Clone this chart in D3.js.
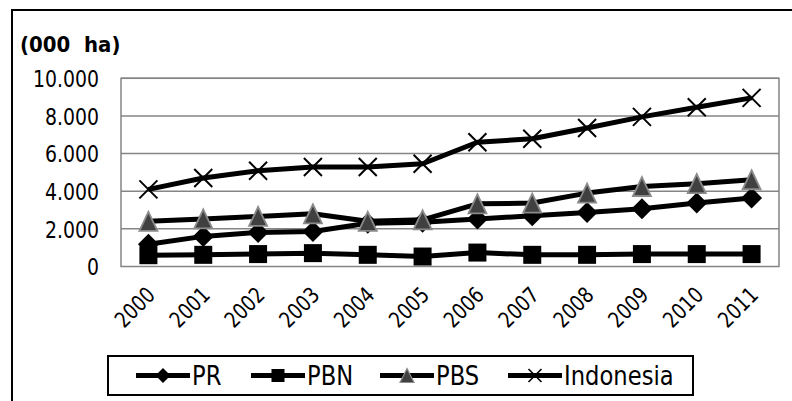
<!DOCTYPE html>
<html>
<head>
<meta charset="utf-8">
<script src="https://cdn.jsdelivr.net/npm/d3@7"></script>
<style>
html,body{margin:0;padding:0;background:#fff;}
svg{display:block;}
text{font-family:"DejaVu Sans",sans-serif;fill:#000;}
</style>
</head>
<body>
<svg id="chart" width="792" height="401"></svg>
<script>
const years = ["2000","2001","2002","2003","2004","2005","2006","2007","2008","2009","2010","2011"];
const seriesNames = ["PR","PBN","PBS","Indonesia"];
const prValues = [1180,1600,1810,1860,2300,2350,2520,2700,2870,3070,3370,3640];
const pbnValues = [600,620,660,710,620,530,740,620,620,660,660,660];
const pbsValues = [2400,2530,2660,2800,2400,2480,3330,3370,3900,4250,4400,4610];
const indonesiaValues = [4100,4700,5090,5290,5290,5460,6600,6790,7360,7950,8460,8960];
const yTicks = [0,2000,4000,6000,8000,10000];
const yTickLabels = ["0","2.000","4.000","6.000","8.000","10.000"];
const unitLabel = "(000  ha)";

const svg = d3.select("#chart");
const plot = {left:121, right:779, top:78.3, bottom:266.5};
const SX = 0.82;

// outer border
svg.append("rect").attr("x",12).attr("y",10).attr("width",820).attr("height",430)
  .attr("fill","none").attr("stroke","#000").attr("stroke-width",2);

const x = d3.scaleBand().domain(years).range([plot.left, plot.right]);
const y = d3.scaleLinear().domain([0,10000]).range([plot.bottom, plot.top]);
const cx = d => x(d) + x.bandwidth()/2;

// gridlines
svg.append("g").selectAll("line").data(yTicks.filter(t=>t>0)).join("line")
  .attr("x1",plot.left).attr("x2",plot.right)
  .attr("y1",d=>y(d)).attr("y2",d=>y(d))
  .attr("stroke","#858585").attr("stroke-width",1.5);
// plot border
svg.append("rect").attr("x",plot.left).attr("y",plot.top)
  .attr("width",plot.right-plot.left).attr("height",plot.bottom-plot.top)
  .attr("fill","none").attr("stroke","#858585").attr("stroke-width",1.5);

// y labels
const yAxis = d3.axisLeft(y).tickValues(yTicks).tickFormat((d,i)=>yTickLabels[i]).tickSize(0).tickPadding(0);
const yg = svg.append("g").attr("transform",`translate(${plot.left},0)`).call(yAxis);
yg.select(".domain").remove();
yg.selectAll(".tick text").attr("x",0).attr("y",0).attr("dx",0).attr("dy",0)
  .attr("font-size",23).attr("text-anchor","end").attr("dominant-baseline","central")
  .attr("transform",`translate(-22,0) scale(${SX},1)`)
  .style("font-family","DejaVu Sans").attr("fill","#000");

// x labels
const xAxis = d3.axisBottom(x).tickSize(0).tickPadding(0);
const xg = svg.append("g").attr("transform",`translate(0,${plot.bottom})`).call(xAxis);
xg.select(".domain").remove();
xg.selectAll(".tick text").attr("x",null).attr("y",null).attr("dy",null)
  .attr("font-size",22).attr("text-anchor","end")
  .attr("transform",`translate(8,30) rotate(-45) scale(${SX},1)`)
  .style("font-family","DejaVu Sans").attr("fill","#000");

// unit label
svg.append("text").attr("transform",`translate(20,52) scale(0.92,1)`)
  .attr("font-size",21.5).attr("font-weight","bold").attr("xml:space","preserve")
  .style("white-space","pre").text(unitLabel);

function drawMarker(g, type, px, py, big){
  if(type==="PR"){
    const h = big?10.5:7.5;
    g.append("path").attr("d",`M${px},${py-h}L${px+h},${py}L${px},${py+h}L${px-h},${py}Z`).attr("fill","#000");
  } else if(type==="PBN"){
    const h = big?9:6.5;
    g.append("rect").attr("x",px-h).attr("y",py-h).attr("width",2*h).attr("height",2*h).attr("fill","#000");
  } else if(type==="PBS"){
    const w = big?9:7, hh = big?9.5:7;
    g.append("path").attr("d",`M${px},${py-hh}L${px+w},${py+hh}L${px-w},${py+hh}Z`)
     .attr("fill","#404040").attr("stroke","#8a8a8a").attr("stroke-width",big?1.8:1.2);
  } else {
    const h = big?9:6.5;
    g.append("path").attr("d",`M${px-h},${py-h}L${px+h},${py+h}M${px-h},${py+h}L${px+h},${py-h}`)
     .attr("stroke","#000").attr("stroke-width",big?2:1.6).attr("fill","none");
  }
}

const allSeries = [prValues,pbnValues,pbsValues,indonesiaValues];
const line = d3.line().x((d,i)=>cx(years[i])).y(d=>y(d));
allSeries.forEach((vals,si)=>{
  const g = svg.append("g");
  g.append("path").datum(vals).attr("d",line).attr("fill","none")
    .attr("stroke","#000").attr("stroke-width",5).attr("stroke-linejoin","round");
  vals.forEach((v,i)=>drawMarker(g, seriesNames[si], cx(years[i]), y(v), true));
});

// legend
const lg = svg.append("g");
lg.append("rect").attr("x",108).attr("y",356).attr("width",585).attr("height",39)
  .attr("fill","#fff").attr("stroke","#000").attr("stroke-width",2);
const legendX = d3.scaleOrdinal().domain(seriesNames).range([136,251,380,508]);
const ly = 375.5;
seriesNames.forEach(n=>{
  const x0 = legendX(n);
  lg.append("line").attr("x1",x0).attr("x2",x0+54).attr("y1",ly).attr("y2",ly)
    .attr("stroke","#000").attr("stroke-width",5);
  drawMarker(lg, n, x0+27, ly, false);
  lg.append("text").attr("transform",`translate(${x0+56},${ly}) scale(0.84,1)`)
    .attr("font-size",27).attr("dominant-baseline","central").text(n);
});
</script>
</body>
</html>
